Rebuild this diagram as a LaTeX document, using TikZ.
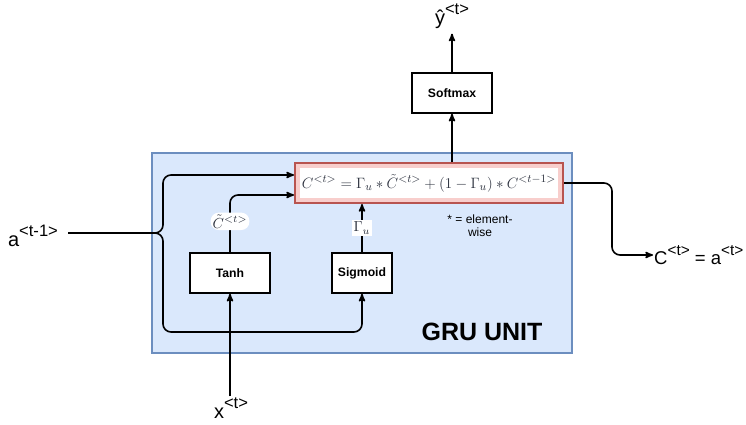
\documentclass[tikz,border=0pt]{standalone}
\usepackage{fontspec}
\setmainfont{Liberation Sans}
\usetikzlibrary{arrows,positioning}
\definecolor[named]{GruFill}{HTML}{DAE8FC}
\definecolor[named]{GruLine}{HTML}{6C8EBF}
\definecolor[named]{EqFill}{HTML}{F8CECC}
\definecolor[named]{EqLine}{HTML}{B85450}
\definecolor[named]{EqText}{HTML}{2E3340}
\newcommand{\upidx}[1]{\raisebox{0.5em}{\scalebox{0.83}{#1}}}
\tikzset{unit/.style ={
        fill=GruFill,
        draw=GruLine,
        line width=1.5,
    },
    eqbox/.style={
        fill=EqFill,
        draw=EqLine,
        line width=2,
    },
    wire/.style ={
        draw,
        line width=1.6,
        -stealth',
    },
    lbl/.style ={
        font=\fontsize{20}{23}\selectfont,
        inner sep=1,
    },
    mathlbl/.style ={
        fill=white,
        text=EqText,
        inner sep=2,
    }}
\begin{document}
\begin{tikzpicture}
    [
    x=1pt, y=-1pt,
    gate/.style ={
        rectangle,
        draw=black,
        line width=1.5,
        fill=white,
        font=\bfseries\fontsize{12.2}{14}\selectfont,
        minimum width=80,
        minimum height=40
    }
    ]
    \useasboundingbox (0,0) rectangle (746,425);
    \node (gru)[unit, minimum width=420, minimum height=200] at (362,253) {};
    \node (eqred)[eqbox, minimum width=268, minimum height=40] at (429,183) {};
    \node (eq)[fill=white, minimum width=258, minimum height=30, inner sep=0, text=EqText, font=\fontsize{13}{15}\selectfont] at (eqred)
        {\scalebox{1.25}{$C^{<t>} = \Gamma_u * \tilde{C}^{<t>} + (1-\Gamma_u) * C^{<t-1>}$}};
    \node (softmax)[gate] at (452,93) {Softmax};
    \node (tanh)[gate] at (230,273) {Tanh};
    \node (sigmoid)[gate, minimum width=60] at (362,273) {Sigmoid};
    \node (gruname)[font=\bfseries\fontsize{25}{28}\selectfont] at (482,332) {GRU UNIT};
    \node (note)[align=center, font=\fontsize{12}{13}\selectfont] at (480,226) {* = element-\\wise};

    \node (aprev)[lbl] at (33,236) {a\upidx{<t-1>}};
    \node (xt)[lbl] at (231,408) {x\upidx{<t>}};
    \node (yhat)[lbl] at (452,16) {ŷ\upidx{<t>}};
    \node (ct)[lbl, anchor=west, font=\fontsize{18.5}{22}\selectfont] at (653,255) {C\upidx{<t>} = a\upidx{<t>}};

    \coordinate (split) at (155,233);
    \coordinate (bus) at (163,233);
    \coordinate (low) at (163,332);
    \coordinate (turn) at (612,220);
    \coordinate (in1) at ([yshift=8]eqred.west);
    \coordinate (in2) at ([yshift=-12]eqred.west);

    \draw[line width=1.6, shorten <=9] (aprev.east |- split) -- (split);
    \draw[wire, rounded corners=8] (split) -| (bus |- in1) -- (in1);
    \draw[wire, rounded corners=8] (split) -| (low) -| (sigmoid.south);
    \draw[wire, rounded corners=8] (tanh.north) |- node[mathlbl, pos=0.27] {\scalebox{1.45}{$\tilde{C}^{<t>}$}} (in2);
    \draw[wire] (sigmoid.north) -- node[mathlbl] {\scalebox{1.45}{$\Gamma_u$}} (eqred.south -| sigmoid);
    \draw[wire] (tanh.south |- xt.north) -- (tanh.south);
    \draw[wire] (eqred.north -| softmax) -- (softmax.south);
    \draw[wire, shorten >=4] (softmax.north) -- (yhat.south);
    \draw[wire, rounded corners=8] (eqred.east) -| (turn) |- (ct.west);

\end{tikzpicture}
\end{document}
